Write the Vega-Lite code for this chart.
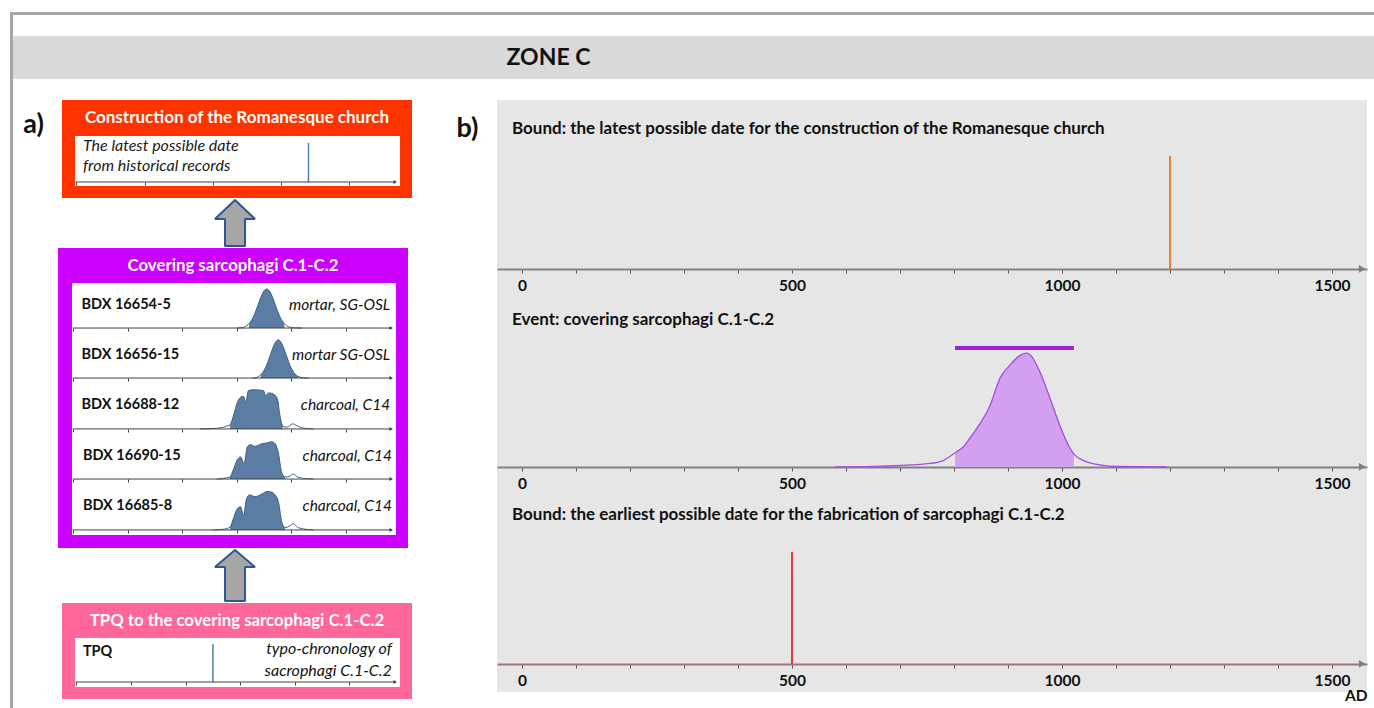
{
"$schema": "https://vega.github.io/schema/vega-lite/v6.json",
"background": "white",
"padding": {"left": 10, "top": 12, "right": 0, "bottom": 0},
"config": {"font": "Lato", "view": {"stroke": null}, "axis": {"grid": false}, "title": {"color": "#111111"}},
"datasets": {
"mini": [
{"sample":"BDX 16654-5","yr":700,"p":0},{"sample":"BDX 16654-5","yr":740,"p":0.008},{"sample":"BDX 16654-5","yr":760,"p":0.03},{"sample":"BDX 16654-5","yr":790,"p":0.096},{"sample":"BDX 16654-5","yr":820,"p":0.236},{"sample":"BDX 16654-5","yr":850,"p":0.458},{"sample":"BDX 16654-5","yr":880,"p":0.704},{"sample":"BDX 16654-5","yr":900,"p":0.823},{"sample":"BDX 16654-5","yr":920,"p":0.867},{"sample":"BDX 16654-5","yr":940,"p":0.823},{"sample":"BDX 16654-5","yr":960,"p":0.704},{"sample":"BDX 16654-5","yr":990,"p":0.458},{"sample":"BDX 16654-5","yr":1020,"p":0.236},{"sample":"BDX 16654-5","yr":1050,"p":0.096},{"sample":"BDX 16654-5","yr":1080,"p":0.03},{"sample":"BDX 16654-5","yr":1120,"p":0.005},{"sample":"BDX 16654-5","yr":1180,"p":0},
{"sample":"BDX 16656-15","yr":820,"p":0},{"sample":"BDX 16656-15","yr":850,"p":0.015},{"sample":"BDX 16656-15","yr":875,"p":0.075},{"sample":"BDX 16656-15","yr":890,"p":0.12},{"sample":"BDX 16656-15","yr":920,"p":0.29},{"sample":"BDX 16656-15","yr":950,"p":0.54},{"sample":"BDX 16656-15","yr":975,"p":0.74},{"sample":"BDX 16656-15","yr":1005,"p":0.85},{"sample":"BDX 16656-15","yr":1035,"p":0.74},{"sample":"BDX 16656-15","yr":1060,"p":0.54},{"sample":"BDX 16656-15","yr":1090,"p":0.29},{"sample":"BDX 16656-15","yr":1120,"p":0.12},{"sample":"BDX 16656-15","yr":1150,"p":0.038},{"sample":"BDX 16656-15","yr":1190,"p":0.005},{"sample":"BDX 16656-15","yr":1230,"p":0},
{"sample":"BDX 16688-12","yr":430,"p":0},{"sample":"BDX 16688-12","yr":553,"p":0.015},{"sample":"BDX 16688-12","yr":651,"p":0.089},{"sample":"BDX 16688-12","yr":675,"p":0.28},{"sample":"BDX 16688-12","yr":705,"p":0.58},{"sample":"BDX 16688-12","yr":729,"p":0.69},{"sample":"BDX 16688-12","yr":749,"p":0.71},{"sample":"BDX 16688-12","yr":766,"p":0.58},{"sample":"BDX 16688-12","yr":786,"p":0.837},{"sample":"BDX 16688-12","yr":822,"p":0.852},{"sample":"BDX 16688-12","yr":896,"p":0.837},{"sample":"BDX 16688-12","yr":913,"p":0.726},{"sample":"BDX 16688-12","yr":933,"p":0.785},{"sample":"BDX 16688-12","yr":969,"p":0.763},{"sample":"BDX 16688-12","yr":999,"p":0.652},{"sample":"BDX 16688-12","yr":1018,"p":0.28},{"sample":"BDX 16688-12","yr":1038,"p":0.059},{"sample":"BDX 16688-12","yr":1068,"p":0.037},{"sample":"BDX 16688-12","yr":1112,"p":0.111},{"sample":"BDX 16688-12","yr":1141,"p":0.074},{"sample":"BDX 16688-12","yr":1178,"p":0.022},{"sample":"BDX 16688-12","yr":1263,"p":0},
{"sample":"BDX 16690-15","yr":553,"p":0},{"sample":"BDX 16690-15","yr":651,"p":0.044},{"sample":"BDX 16690-15","yr":675,"p":0.207},{"sample":"BDX 16690-15","yr":705,"p":0.43},{"sample":"BDX 16690-15","yr":729,"p":0.49},{"sample":"BDX 16690-15","yr":754,"p":0.34},{"sample":"BDX 16690-15","yr":778,"p":0.711},{"sample":"BDX 16690-15","yr":798,"p":0.763},{"sample":"BDX 16690-15","yr":835,"p":0.726},{"sample":"BDX 16690-15","yr":884,"p":0.785},{"sample":"BDX 16690-15","yr":920,"p":0.8},{"sample":"BDX 16690-15","yr":957,"p":0.83},{"sample":"BDX 16690-15","yr":982,"p":0.785},{"sample":"BDX 16690-15","yr":1006,"p":0.578},{"sample":"BDX 16690-15","yr":1031,"p":0.133},{"sample":"BDX 16690-15","yr":1055,"p":0.044},{"sample":"BDX 16690-15","yr":1087,"p":0.059},{"sample":"BDX 16690-15","yr":1116,"p":0.111},{"sample":"BDX 16690-15","yr":1146,"p":0.044},{"sample":"BDX 16690-15","yr":1190,"p":0.015},{"sample":"BDX 16690-15","yr":1263,"p":0},
{"sample":"BDX 16685-8","yr":528,"p":0},{"sample":"BDX 16685-8","yr":602,"p":0.015},{"sample":"BDX 16685-8","yr":651,"p":0.059},{"sample":"BDX 16685-8","yr":675,"p":0.244},{"sample":"BDX 16685-8","yr":705,"p":0.467},{"sample":"BDX 16685-8","yr":729,"p":0.504},{"sample":"BDX 16685-8","yr":749,"p":0.319},{"sample":"BDX 16685-8","yr":773,"p":0.689},{"sample":"BDX 16685-8","yr":793,"p":0.763},{"sample":"BDX 16685-8","yr":835,"p":0.726},{"sample":"BDX 16685-8","yr":896,"p":0.8},{"sample":"BDX 16685-8","yr":920,"p":0.837},{"sample":"BDX 16685-8","yr":957,"p":0.822},{"sample":"BDX 16685-8","yr":982,"p":0.763},{"sample":"BDX 16685-8","yr":1006,"p":0.615},{"sample":"BDX 16685-8","yr":1031,"p":0.17},{"sample":"BDX 16685-8","yr":1055,"p":0.052},{"sample":"BDX 16685-8","yr":1087,"p":0.081},{"sample":"BDX 16685-8","yr":1116,"p":0.133},{"sample":"BDX 16685-8","yr":1146,"p":0.059},{"sample":"BDX 16685-8","yr":1190,"p":0.022},{"sample":"BDX 16685-8","yr":1263,"p":0}
],
"event": [
{"yr":580,"p":0},{"yr":650,"p":0.003},{"yr":700,"p":0.008},{"yr":756,"p":0.02},{"yr":780,"p":0.037},{"yr":802,"p":0.083},{"yr":817,"p":0.117},{"yr":833,"p":0.185},{"yr":848,"p":0.254},{"yr":867,"p":0.363},{"yr":885,"p":0.521},{"yr":904,"p":0.6},{"yr":919,"p":0.649},{"yr":935,"p":0.669},{"yr":944,"p":0.649},{"yr":959,"p":0.56},{"yr":978,"p":0.402},{"yr":996,"p":0.244},{"yr":1012,"p":0.126},{"yr":1022,"p":0.075},{"yr":1040,"p":0.037},{"yr":1070,"p":0.012},{"yr":1101,"p":0.002},{"yr":1194,"p":0}
]
},
"spacing": 0,
"hconcat": [
 {"width": 3, "height": 696, "view": {"fill": "#a6a6a6"}, "data": {"values": [{}]}, "mark": {"type": "text", "text": "", "fontSize": 0}, "encoding": {}},
 {"spacing": 21, "vconcat": [
  {"width": 1361, "height": 3, "view": {"fill": "#a6a6a6"}, "data": {"values": [{}]}, "mark": {"type": "text", "text": "", "fontSize": 0}, "encoding": {}},
  {"width": 1361, "height": 43, "view": {"fill": "#d9d9d9"}, "data": {"values": [{}]}, "mark": {"type": "text", "text": "ZONE C", "fontSize": 23, "fontWeight": "bold", "color": "#111111", "dx": -145}, "encoding": {}},
  {"spacing": 0, "hconcat": [
   {"width": 45, "height": 50, "data": {"values": [{}]}, "mark": {"type": "text", "text": "a)", "fontSize": 27, "fontWeight": "bold", "color": "#111111", "dx": -2}, "encoding": {}},
   {"spacing": 0, "vconcat": [
    {"spacing": 0, "hconcat": [
     {"width": 4, "height": 98, "data": {"values": [{}]}, "mark": {"type": "text", "text": "", "fontSize": 0}, "encoding": {}},
     {"spacing": 0, "vconcat": [
      {"width": 350, "height": 36, "view": {"fill": "#ff3300"}, "data": {"values": [{}]}, "mark": {"type": "text", "text": "Construction of the Romanesque church", "color": "white", "fontSize": 17, "fontWeight": "bold"}, "encoding": {}},
      {"spacing": 0, "hconcat": [
       {"width": 13, "height": 50, "view": {"fill": "#ff3300"}, "data": {"values": [{}]}, "mark": {"type": "text", "text": "", "fontSize": 0}, "encoding": {}},
       {"width": 325, "height": 50, "view": {"fill": "white"}, "layer": [
        {"data": {"values": [{"date": 1200}]}, "mark": {"type": "rule", "color": "#4f81bd", "strokeWidth": 1.5},
         "encoding": {"x": {"field": "date", "type": "quantitative", "scale": {"domain": [-510, 1870], "nice": false, "zero": false}, "axis": {"values": [-500, 0, 500, 1000, 1500], "labels": false, "domain": false, "tickColor": "#404040", "tickSize": 3, "offset": -4, "title": null}},
          "y": {"datum": 0, "type": "quantitative", "scale": {"domain": [-0.087, 1], "nice": false, "zero": false}, "axis": null}, "y2": {"datum": 0.848}}},
        {"data": {"values": [{}]}, "mark": {"type": "rule", "color": "#404040"}, "encoding": {"x": {"datum": -505, "type": "quantitative"}, "x2": {"datum": 1835}, "y": {"datum": 0, "type": "quantitative"}}},
        {"data": {"values": [{}]}, "mark": {"type": "point", "shape": "triangle-right", "filled": true, "color": "#404040", "size": 16, "opacity": 1}, "encoding": {"x": {"datum": 1835, "type": "quantitative"}, "y": {"datum": 0, "type": "quantitative"}}},
        {"data": {"values": [{}]}, "mark": {"type": "text", "align": "left", "fontStyle": "italic", "fontSize": 16, "color": "#1a1a1a"}, "encoding": {"x": {"datum": -452, "type": "quantitative"}, "y": {"datum": 0.789, "type": "quantitative"}, "text": {"value": "The latest possible date"}}},
        {"data": {"values": [{}]}, "mark": {"type": "text", "align": "left", "fontStyle": "italic", "fontSize": 16, "color": "#1a1a1a"}, "encoding": {"x": {"datum": -452, "type": "quantitative"}, "y": {"datum": 0.354, "type": "quantitative"}, "text": {"value": "from historical records"}}}
       ]},
       {"width": 12, "height": 50, "view": {"fill": "#ff3300"}, "data": {"values": [{}]}, "mark": {"type": "text", "text": "", "fontSize": 0}, "encoding": {}}
      ]},
      {"width": 350, "height": 12, "view": {"fill": "#ff3300"}, "data": {"values": [{}]}, "mark": {"type": "text", "text": "", "fontSize": 0}, "encoding": {}}
     ]}
    ]},
    {"width": 354, "height": 50, "data": {"values": [{}]}, "mark": {"type": "point", "shape": "M0,-1 L0.87,-0.174 L0.435,-0.174 L0.435,1 L-0.435,1 L-0.435,-0.174 L-0.87,-0.174 Z", "size": 2116, "filled": true, "fill": "#a6a6a6", "stroke": "#2f5597", "strokeWidth": 2, "strokeJoin": "bevel", "opacity": 1}, "encoding": {}},
    {"spacing": 0, "vconcat": [
     {"width": 350, "height": 35, "view": {"fill": "#cc00ff"}, "data": {"values": [{}]}, "mark": {"type": "text", "text": "Covering sarcophagi C.1-C.2", "color": "white", "fontSize": 16.8, "fontWeight": "bold"}, "encoding": {}},
     {"spacing": 0, "hconcat": [
      {"width": 14, "height": 252, "view": {"fill": "#cc00ff"}, "data": {"values": [{}]}, "mark": {"type": "text", "text": "", "fontSize": 0}, "encoding": {}},
      {"spacing": 0, "vconcat": [
       {"width": 324, "height": 50, "view": {"fill": "white"}, "layer": [
        {"data": {"name": "mini"}, "transform": [{"filter": {"field": "sample", "equal": "BDX 16654-5"}}, {"filter": {"field": "yr", "range": [790, 1050]}}], "mark": {"type": "area", "interpolate": "monotone", "color": "#5b7ca3", "opacity": 1},
         "encoding": {"x": {"field": "yr", "type": "quantitative", "scale": {"domain": [-510, 1870], "nice": false, "zero": false}, "axis": {"values": [-500,-400,-300,-200,-100,0,100,200,300,400,500,600,700,800,900,1000,1100,1200,1300,1400,1500,1600,1700,1800], "labels": false, "domain": false, "tickColor": "#404040", "tickSize": 3, "offset": -5, "title": null}},
          "y": {"field": "p", "type": "quantitative", "scale": {"domain": [-0.11, 1], "nice": false, "zero": false}, "axis": null}}},
        {"data": {"name": "mini"}, "transform": [{"filter": {"field": "sample", "equal": "BDX 16654-5"}}], "mark": {"type": "line", "interpolate": "monotone", "color": "#3d5f88", "strokeWidth": 1}, "encoding": {"x": {"field": "yr", "type": "quantitative"}, "y": {"field": "p", "type": "quantitative"}}},
        {"data": {"values": [{}]}, "mark": {"type": "rule", "color": "#404040"}, "encoding": {"x": {"datum": -505, "type": "quantitative"}, "x2": {"datum": 1835}, "y": {"datum": 0, "type": "quantitative"}}},
        {"data": {"values": [{}]}, "mark": {"type": "point", "shape": "triangle-right", "filled": true, "color": "#404040", "size": 16, "opacity": 1}, "encoding": {"x": {"datum": 1835, "type": "quantitative"}, "y": {"datum": 0, "type": "quantitative"}}},
        {"data": {"values": [{}]}, "mark": {"type": "text", "align": "left", "fontWeight": "bold", "fontSize": 14.5, "color": "#111111"}, "encoding": {"x": {"datum": -440, "type": "quantitative"}, "y": {"datum": 0.52, "type": "quantitative"}, "text": {"value": "BDX 16654-5"}}},
        {"data": {"values": [{}]}, "mark": {"type": "text", "align": "right", "fontStyle": "italic", "fontSize": 15.5, "color": "#111111"}, "encoding": {"x": {"datum": 1827, "type": "quantitative"}, "y": {"datum": 0.52, "type": "quantitative"}, "text": {"value": "mortar, SG-OSL"}}}
       ]},
       {"width": 324, "height": 50, "view": {"fill": "white"}, "layer": [
        {"data": {"name": "mini"}, "transform": [{"filter": {"field": "sample", "equal": "BDX 16656-15"}}, {"filter": {"field": "yr", "range": [875, 1150]}}], "mark": {"type": "area", "interpolate": "monotone", "color": "#5b7ca3", "opacity": 1},
         "encoding": {"x": {"field": "yr", "type": "quantitative", "scale": {"domain": [-510, 1870], "nice": false, "zero": false}, "axis": {"values": [-500,-400,-300,-200,-100,0,100,200,300,400,500,600,700,800,900,1000,1100,1200,1300,1400,1500,1600,1700,1800], "labels": false, "domain": false, "tickColor": "#404040", "tickSize": 3, "offset": -5, "title": null}},
          "y": {"field": "p", "type": "quantitative", "scale": {"domain": [-0.11, 1], "nice": false, "zero": false}, "axis": null}}},
        {"data": {"name": "mini"}, "transform": [{"filter": {"field": "sample", "equal": "BDX 16656-15"}}], "mark": {"type": "line", "interpolate": "monotone", "color": "#3d5f88", "strokeWidth": 1}, "encoding": {"x": {"field": "yr", "type": "quantitative"}, "y": {"field": "p", "type": "quantitative"}}},
        {"data": {"values": [{}]}, "mark": {"type": "rule", "color": "#404040"}, "encoding": {"x": {"datum": -505, "type": "quantitative"}, "x2": {"datum": 1835}, "y": {"datum": 0, "type": "quantitative"}}},
        {"data": {"values": [{}]}, "mark": {"type": "point", "shape": "triangle-right", "filled": true, "color": "#404040", "size": 16, "opacity": 1}, "encoding": {"x": {"datum": 1835, "type": "quantitative"}, "y": {"datum": 0, "type": "quantitative"}}},
        {"data": {"values": [{}]}, "mark": {"type": "text", "align": "left", "fontWeight": "bold", "fontSize": 14.5, "color": "#111111"}, "encoding": {"x": {"datum": -440, "type": "quantitative"}, "y": {"datum": 0.52, "type": "quantitative"}, "text": {"value": "BDX 16656-15"}}},
        {"data": {"values": [{}]}, "mark": {"type": "text", "align": "right", "fontStyle": "italic", "fontSize": 15.5, "color": "#111111"}, "encoding": {"x": {"datum": 1827, "type": "quantitative"}, "y": {"datum": 0.52, "type": "quantitative"}, "text": {"value": "mortar SG-OSL"}}}
       ]},
       {"width": 324, "height": 51, "view": {"fill": "white"}, "layer": [
        {"data": {"name": "mini"}, "transform": [{"filter": {"field": "sample", "equal": "BDX 16688-12"}}, {"filter": {"field": "yr", "range": [651, 1038]}}], "mark": {"type": "area", "interpolate": "monotone", "color": "#5b7ca3", "opacity": 1},
         "encoding": {"x": {"field": "yr", "type": "quantitative", "scale": {"domain": [-510, 1870], "nice": false, "zero": false}, "axis": {"values": [-500,-400,-300,-200,-100,0,100,200,300,400,500,600,700,800,900,1000,1100,1200,1300,1400,1500,1600,1700,1800], "labels": false, "domain": false, "tickColor": "#404040", "tickSize": 3, "offset": -5, "title": null}},
          "y": {"field": "p", "type": "quantitative", "scale": {"domain": [-0.11, 1], "nice": false, "zero": false}, "axis": null}}},
        {"data": {"name": "mini"}, "transform": [{"filter": {"field": "sample", "equal": "BDX 16688-12"}}], "mark": {"type": "line", "interpolate": "monotone", "color": "#3d5f88", "strokeWidth": 1}, "encoding": {"x": {"field": "yr", "type": "quantitative"}, "y": {"field": "p", "type": "quantitative"}}},
        {"data": {"values": [{}]}, "mark": {"type": "rule", "color": "#404040"}, "encoding": {"x": {"datum": -505, "type": "quantitative"}, "x2": {"datum": 1835}, "y": {"datum": 0, "type": "quantitative"}}},
        {"data": {"values": [{}]}, "mark": {"type": "point", "shape": "triangle-right", "filled": true, "color": "#404040", "size": 16, "opacity": 1}, "encoding": {"x": {"datum": 1835, "type": "quantitative"}, "y": {"datum": 0, "type": "quantitative"}}},
        {"data": {"values": [{}]}, "mark": {"type": "text", "align": "left", "fontWeight": "bold", "fontSize": 14.5, "color": "#111111"}, "encoding": {"x": {"datum": -440, "type": "quantitative"}, "y": {"datum": 0.52, "type": "quantitative"}, "text": {"value": "BDX 16688-12"}}},
        {"data": {"values": [{}]}, "mark": {"type": "text", "align": "right", "fontStyle": "italic", "fontSize": 15.5, "color": "#111111"}, "encoding": {"x": {"datum": 1827, "type": "quantitative"}, "y": {"datum": 0.52, "type": "quantitative"}, "text": {"value": "charcoal, C14"}}}
       ]},
       {"width": 324, "height": 50, "view": {"fill": "white"}, "layer": [
        {"data": {"name": "mini"}, "transform": [{"filter": {"field": "sample", "equal": "BDX 16690-15"}}, {"filter": {"field": "yr", "range": [651, 1055]}}], "mark": {"type": "area", "interpolate": "monotone", "color": "#5b7ca3", "opacity": 1},
         "encoding": {"x": {"field": "yr", "type": "quantitative", "scale": {"domain": [-510, 1870], "nice": false, "zero": false}, "axis": {"values": [-500,-400,-300,-200,-100,0,100,200,300,400,500,600,700,800,900,1000,1100,1200,1300,1400,1500,1600,1700,1800], "labels": false, "domain": false, "tickColor": "#404040", "tickSize": 3, "offset": -5, "title": null}},
          "y": {"field": "p", "type": "quantitative", "scale": {"domain": [-0.11, 1], "nice": false, "zero": false}, "axis": null}}},
        {"data": {"name": "mini"}, "transform": [{"filter": {"field": "sample", "equal": "BDX 16690-15"}}], "mark": {"type": "line", "interpolate": "monotone", "color": "#3d5f88", "strokeWidth": 1}, "encoding": {"x": {"field": "yr", "type": "quantitative"}, "y": {"field": "p", "type": "quantitative"}}},
        {"data": {"values": [{}]}, "mark": {"type": "rule", "color": "#404040"}, "encoding": {"x": {"datum": -505, "type": "quantitative"}, "x2": {"datum": 1835}, "y": {"datum": 0, "type": "quantitative"}}},
        {"data": {"values": [{}]}, "mark": {"type": "point", "shape": "triangle-right", "filled": true, "color": "#404040", "size": 16, "opacity": 1}, "encoding": {"x": {"datum": 1835, "type": "quantitative"}, "y": {"datum": 0, "type": "quantitative"}}},
        {"data": {"values": [{}]}, "mark": {"type": "text", "align": "left", "fontWeight": "bold", "fontSize": 14.5, "color": "#111111"}, "encoding": {"x": {"datum": -430, "type": "quantitative"}, "y": {"datum": 0.52, "type": "quantitative"}, "text": {"value": "BDX 16690-15"}}},
        {"data": {"values": [{}]}, "mark": {"type": "text", "align": "right", "fontStyle": "italic", "fontSize": 15.5, "color": "#111111"}, "encoding": {"x": {"datum": 1840, "type": "quantitative"}, "y": {"datum": 0.52, "type": "quantitative"}, "text": {"value": "charcoal, C14"}}}
       ]},
       {"width": 324, "height": 51, "view": {"fill": "white"}, "layer": [
        {"data": {"name": "mini"}, "transform": [{"filter": {"field": "sample", "equal": "BDX 16685-8"}}, {"filter": {"field": "yr", "range": [651, 1055]}}], "mark": {"type": "area", "interpolate": "monotone", "color": "#5b7ca3", "opacity": 1},
         "encoding": {"x": {"field": "yr", "type": "quantitative", "scale": {"domain": [-510, 1870], "nice": false, "zero": false}, "axis": {"values": [-500,-400,-300,-200,-100,0,100,200,300,400,500,600,700,800,900,1000,1100,1200,1300,1400,1500,1600,1700,1800], "labels": false, "domain": false, "tickColor": "#404040", "tickSize": 3, "offset": -5, "title": null}},
          "y": {"field": "p", "type": "quantitative", "scale": {"domain": [-0.11, 1], "nice": false, "zero": false}, "axis": null}}},
        {"data": {"name": "mini"}, "transform": [{"filter": {"field": "sample", "equal": "BDX 16685-8"}}], "mark": {"type": "line", "interpolate": "monotone", "color": "#3d5f88", "strokeWidth": 1}, "encoding": {"x": {"field": "yr", "type": "quantitative"}, "y": {"field": "p", "type": "quantitative"}}},
        {"data": {"values": [{}]}, "mark": {"type": "rule", "color": "#404040"}, "encoding": {"x": {"datum": -505, "type": "quantitative"}, "x2": {"datum": 1835}, "y": {"datum": 0, "type": "quantitative"}}},
        {"data": {"values": [{}]}, "mark": {"type": "point", "shape": "triangle-right", "filled": true, "color": "#404040", "size": 16, "opacity": 1}, "encoding": {"x": {"datum": 1835, "type": "quantitative"}, "y": {"datum": 0, "type": "quantitative"}}},
        {"data": {"values": [{}]}, "mark": {"type": "text", "align": "left", "fontWeight": "bold", "fontSize": 14.5, "color": "#111111"}, "encoding": {"x": {"datum": -430, "type": "quantitative"}, "y": {"datum": 0.52, "type": "quantitative"}, "text": {"value": "BDX 16685-8"}}},
        {"data": {"values": [{}]}, "mark": {"type": "text", "align": "right", "fontStyle": "italic", "fontSize": 15.5, "color": "#111111"}, "encoding": {"x": {"datum": 1840, "type": "quantitative"}, "y": {"datum": 0.52, "type": "quantitative"}, "text": {"value": "charcoal, C14"}}}
       ]}
      ]},
      {"width": 12, "height": 252, "view": {"fill": "#cc00ff"}, "data": {"values": [{}]}, "mark": {"type": "text", "text": "", "fontSize": 0}, "encoding": {}}
     ]},
     {"width": 350, "height": 13, "view": {"fill": "#cc00ff"}, "data": {"values": [{}]}, "mark": {"type": "text", "text": "", "fontSize": 0}, "encoding": {}}
    ]},
    {"width": 354, "height": 55, "data": {"values": [{}]}, "mark": {"type": "point", "shape": "M0,-1 L0.784,-0.333 L0.392,-0.333 L0.392,1 L-0.392,1 L-0.392,-0.333 L-0.784,-0.333 Z", "size": 2601, "filled": true, "fill": "#a6a6a6", "stroke": "#2f5597", "strokeWidth": 2, "strokeJoin": "bevel", "opacity": 1}, "encoding": {}},
    {"spacing": 0, "hconcat": [
     {"width": 4, "height": 96, "data": {"values": [{}]}, "mark": {"type": "text", "text": "", "fontSize": 0}, "encoding": {}},
     {"spacing": 0, "vconcat": [
      {"width": 350, "height": 35, "view": {"fill": "#ff6699"}, "data": {"values": [{}]}, "mark": {"type": "text", "text": "TPQ to the covering sarcophagi C.1-C.2", "color": "white", "fontSize": 16.8, "fontWeight": "bold"}, "encoding": {}},
      {"spacing": 0, "hconcat": [
       {"width": 13, "height": 49, "view": {"fill": "#ff6699"}, "data": {"values": [{}]}, "mark": {"type": "text", "text": "", "fontSize": 0}, "encoding": {}},
       {"width": 325, "height": 49, "view": {"fill": "white"}, "layer": [
        {"data": {"values": [{"date": 500}]}, "mark": {"type": "rule", "color": "#4f81bd", "strokeWidth": 1.5},
         "encoding": {"x": {"field": "date", "type": "quantitative", "scale": {"domain": [-510, 1870], "nice": false, "zero": false}, "axis": {"values": [-500,-400,-300,-200,-100,0,100,200,300,400,500,600,700,800,900,1000,1100,1200,1300,1400,1500,1600,1700,1800], "labels": false, "domain": false, "tickColor": "#404040", "tickSize": 3, "offset": -5, "title": null}},
          "y": {"datum": 0, "type": "quantitative", "scale": {"domain": [-0.1136, 1], "nice": false, "zero": false}, "axis": null}, "y2": {"datum": 0.864}}},
        {"data": {"values": [{}]}, "mark": {"type": "rule", "color": "#404040"}, "encoding": {"x": {"datum": -505, "type": "quantitative"}, "x2": {"datum": 1835}, "y": {"datum": 0, "type": "quantitative"}}},
        {"data": {"values": [{}]}, "mark": {"type": "point", "shape": "triangle-right", "filled": true, "color": "#404040", "size": 16, "opacity": 1}, "encoding": {"x": {"datum": 1835, "type": "quantitative"}, "y": {"datum": 0, "type": "quantitative"}}},
        {"data": {"values": [{}]}, "mark": {"type": "text", "align": "left", "fontWeight": "bold", "fontSize": 14.5, "color": "#111111"}, "encoding": {"x": {"datum": -452, "type": "quantitative"}, "y": {"datum": 0.68, "type": "quantitative"}, "text": {"value": "TPQ"}}},
        {"data": {"values": [{}]}, "mark": {"type": "text", "align": "right", "fontStyle": "italic", "fontSize": 16, "color": "#111111"}, "encoding": {"x": {"datum": 1810, "type": "quantitative"}, "y": {"datum": 0.75, "type": "quantitative"}, "text": {"value": "typo-chronology of"}}},
        {"data": {"values": [{}]}, "mark": {"type": "text", "align": "right", "fontStyle": "italic", "fontSize": 16, "color": "#111111"}, "encoding": {"x": {"datum": 1810, "type": "quantitative"}, "y": {"datum": 0.25, "type": "quantitative"}, "text": {"value": "sacrophagi C.1-C.2"}}}
       ]},
       {"width": 12, "height": 49, "view": {"fill": "#ff6699"}, "data": {"values": [{}]}, "mark": {"type": "text", "text": "", "fontSize": 0}, "encoding": {}}
      ]},
      {"width": 350, "height": 12, "view": {"fill": "#ff6699"}, "data": {"values": [{}]}, "mark": {"type": "text", "text": "", "fontSize": 0}, "encoding": {}}
     ]}
    ]}
   ]},
   {"width": 85, "height": 58, "data": {"values": [{}]}, "mark": {"type": "text", "text": "b)", "fontSize": 27, "fontWeight": "bold", "color": "#111111", "dx": 13}, "encoding": {}},
   {"spacing": 0, "vconcat": [
    {"width": 870, "height": 197, "view": {"fill": "#e6e6e6"},
     "title": {"text": "Bound: the latest possible date for the construction of the Romanesque church", "anchor": "start", "frame": "group", "dx": 15, "offset": -38, "fontSize": 17, "fontWeight": "bold"},
     "layer": [
      {"data": {"values": [{"date": 1200}]}, "mark": {"type": "rule", "color": "#ed7d31", "strokeWidth": 2},
       "encoding": {"x": {"field": "date", "type": "quantitative", "scale": {"domain": [-46.3, 1564.8], "nice": false, "zero": false}, "axis": {"values": [0,100,200,300,400,500,600,700,800,900,1000,1100,1200,1300,1400,1500], "format": "d", "labelExpr": "datum.value % 500 === 0 ? datum.label : ''", "offset": -28, "domainColor": "#8c807a", "domainWidth": 2, "tickColor": "#555555", "tickSize": 4, "labelFontSize": 15.5, "labelFontWeight": "bold", "labelColor": "#111111", "labelPadding": 5, "labelFlush": false, "labelOverlap": false, "title": null}},
        "y": {"datum": 0, "type": "quantitative", "scale": {"domain": [-0.1657, 1], "nice": false, "zero": false}, "axis": null}, "y2": {"datum": 0.669}}},
      {"data": {"values": [{}]}, "mark": {"type": "point", "shape": "triangle-right", "filled": true, "color": "#7f7f7f", "size": 60, "opacity": 1}, "encoding": {"x": {"datum": 1556, "type": "quantitative"}, "y": {"datum": 0, "type": "quantitative"}}}
     ]},
    {"width": 870, "height": 198, "view": {"fill": "#e6e6e6"},
     "title": {"text": "Event: covering sarcophagi C.1-C.2", "anchor": "start", "frame": "group", "dx": 15, "offset": -31.5, "fontSize": 17, "fontWeight": "bold"},
     "layer": [
      {"data": {"name": "event"}, "transform": [{"filter": {"field": "yr", "range": [802, 1022]}}], "mark": {"type": "area", "interpolate": "monotone", "color": "#d3a0f0", "opacity": 1},
       "encoding": {"x": {"field": "yr", "type": "quantitative", "scale": {"domain": [-46.3, 1564.8], "nice": false, "zero": false}, "axis": {"values": [0,100,200,300,400,500,600,700,800,900,1000,1100,1200,1300,1400,1500], "format": "d", "labelExpr": "datum.value % 500 === 0 ? datum.label : ''", "offset": -28, "domainColor": "#808080", "domainWidth": 2, "tickColor": "#555555", "tickSize": 4, "labelFontSize": 15.5, "labelFontWeight": "bold", "labelColor": "#111111", "labelPadding": 5, "labelFlush": false, "labelOverlap": false, "title": null}},
        "y": {"field": "p", "type": "quantitative", "scale": {"domain": [-0.1657, 1], "nice": false, "zero": false}, "axis": null}}},
      {"data": {"name": "event"}, "mark": {"type": "line", "interpolate": "monotone", "color": "#a64de0", "strokeWidth": 1.3}, "encoding": {"x": {"field": "yr", "type": "quantitative"}, "y": {"field": "p", "type": "quantitative"}}},
      {"data": {"values": [{"start": 802, "end": 1022}]}, "mark": {"type": "rule", "color": "#9d20d8", "strokeWidth": 4}, "encoding": {"x": {"field": "start", "type": "quantitative"}, "x2": {"field": "end"}, "y": {"datum": 0.7, "type": "quantitative"}}},
      {"data": {"values": [{}]}, "mark": {"type": "point", "shape": "triangle-right", "filled": true, "color": "#7f7f7f", "size": 60, "opacity": 1}, "encoding": {"x": {"datum": 1556, "type": "quantitative"}, "y": {"datum": 0, "type": "quantitative"}}}
     ]},
    {"width": 870, "height": 197, "view": {"fill": "#e6e6e6"},
     "title": {"text": "Bound: the earliest possible date for the fabrication of sarcophagi C.1-C.2", "anchor": "start", "frame": "group", "dx": 15, "offset": -29, "fontSize": 17, "fontWeight": "bold"},
     "layer": [
      {"data": {"values": [{"date": 500}]}, "mark": {"type": "rule", "color": "#f0353c", "strokeWidth": 2},
       "encoding": {"x": {"field": "date", "type": "quantitative", "scale": {"domain": [-46.3, 1564.8], "nice": false, "zero": false}, "axis": {"values": [0,100,200,300,400,500,600,700,800,900,1000,1100,1200,1300,1400,1500], "format": "d", "labelExpr": "datum.value % 500 === 0 ? datum.label : ''", "offset": -28, "domainColor": "#a87272", "domainWidth": 2, "tickColor": "#555555", "tickSize": 4, "labelFontSize": 15.5, "labelFontWeight": "bold", "labelColor": "#111111", "labelPadding": 5, "labelFlush": false, "labelOverlap": false, "title": "AD", "titleAnchor": "end", "titleFontSize": 15.5, "titleFontWeight": "bold", "titleColor": "#111111", "titlePadding": 0}},
        "y": {"datum": 0, "type": "quantitative", "scale": {"domain": [-0.1657, 1], "nice": false, "zero": false}, "axis": null}, "y2": {"datum": 0.663}}},
      {"data": {"values": [{}]}, "mark": {"type": "point", "shape": "triangle-right", "filled": true, "color": "#7f7f7f", "size": 60, "opacity": 1}, "encoding": {"x": {"datum": 1556, "type": "quantitative"}, "y": {"datum": 0, "type": "quantitative"}}}
     ]}
   ]}
  ]}
 ]}
]
}
